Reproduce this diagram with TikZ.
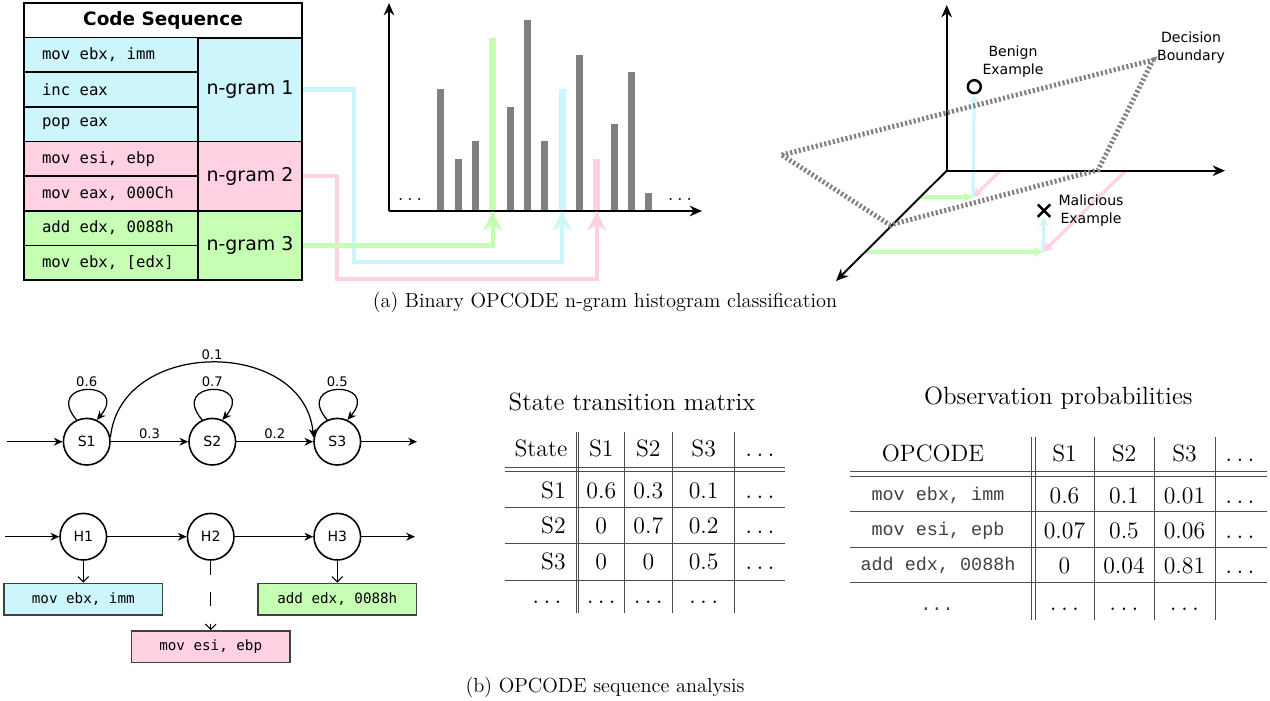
\documentclass[tikz,border=0pt]{standalone}
\usepackage{fontspec}
\usetikzlibrary{arrows.meta,shapes.misc}
\newfontfamily\dejavu{DejaVu Sans}
\newfontfamily\dejavumono{DejaVu Sans Mono}
\newfontfamily\courmono{Liberation Mono}
\newcommand\codeline[1]{\makebox[2.76cm][l]{#1}}
\definecolor{ngcyan}{HTML}{CCF5FC}
\definecolor{ngpink}{HTML}{FFD1E3}
\definecolor{nggreen}{HTML}{C6FFB4}
\definecolor{bargray}{HTML}{808080}

\begin{document}
\begin{tikzpicture}[x=0.02cm, y=-0.02cm,
  codecell/.style={draw, line width=1pt, inner sep=0pt, minimum width=3.48cm, minimum height=0.6925cm, font=\dejavumono\fontsize{8.9}{10}\selectfont},
  ngcell/.style={draw, line width=1pt, minimum width=2.08cm, inner sep=0pt, font=\dejavu\fontsize{10.8}{12}\selectfont},
  axisline/.style={line width=1.1pt, -{Stealth[length=7pt,width=6pt]}},
  flow/.style={line width=2.5pt, line join=miter, -{Stealth[length=11pt,width=10.5pt,inset=3pt]}},
  arrow3d/.style={line width=1.8pt, -{Stealth[length=5.5pt,width=5.5pt]}},
  boundary/.style={draw=bargray, line width=2.8pt, dash pattern=on 1.2pt off 1.3pt},
  lbl/.style={align=center, font=\dejavu\fontsize{8}{10.2}\selectfont},
  hstate/.style={circle, draw, line width=0.9pt, minimum size=0.932cm, inner sep=0pt, font=\dejavu\fontsize{8}{10}\selectfont},
  hmm/.style={line width=0.7pt, -{Stealth[length=5pt,width=4.5pt]}},
  emit/.style={line width=0.6pt, -{Straight Barb[length=3pt,width=6pt]}},
  plabel/.style={font=\dejavu\fontsize{7.5}{9}\selectfont, inner sep=1.5pt},
  obsbox/.style={draw=black!75, line width=0.9pt, minimum width=3.17cm, minimum height=0.634cm, font=\dejavumono\fontsize{8.1}{10}\selectfont},
  capstyle/.style={font=\fontsize{11.6}{14}\selectfont},
  tabtitle/.style={font=\fontsize{14.2}{17}\selectfont},
  tcell/.style={anchor=base, inner sep=0pt, font=\fontsize{13.5}{16}\selectfont},
  tcode/.style={anchor=base, inner sep=0pt, text=black!75, font=\courmono\fontsize{10.5}{12}\selectfont},
  hrule/.style={line width=0.5pt, draw=black!70}]
\useasboundingbox (0,0) rectangle (1270,700);

% Code sequence table
\node[draw, line width=1pt, fill=white, minimum width=5.56cm, minimum height=0.6925cm, font=\dejavu\bfseries\fontsize{10.5}{12}\selectfont] (title) at (163,20.3) {Code Sequence};
\node[codecell, fill=ngcyan] (op1) at (111,54.9) {\codeline{mov ebx, imm}};
\node[codecell, fill=ngcyan] (op2) at (111,89.6) {\codeline{inc eax}};
\node[codecell, fill=ngcyan] (op3) at (111,124.2) {\codeline{pop eax}};
\node[codecell, fill=ngpink] (op4) at (111,158.8) {\codeline{mov esi, ebp}};
\node[codecell, fill=ngpink] (op5) at (111,193.4) {\codeline{mov eax, 000Ch}};
\node[codecell, fill=nggreen] (op6) at (111,228.1) {\codeline{add edx, 0088h}};
\node[codecell, fill=nggreen] (op7) at (111,262.7) {\codeline{mov ebx, [edx]}};
\node[ngcell, fill=ngcyan, minimum height=2.0775cm] (ng1) at (250,89.6) {n-gram 1};
\node[ngcell, fill=ngpink, minimum height=1.385cm] (ng2) at (250,176.1) {n-gram 2};
\node[ngcell, fill=nggreen, minimum height=1.385cm] (ng3) at (250,245.4) {n-gram 3};

% Histogram
\coordinate (hO) at (389,211);
\foreach \x/\t in {440.7/89,458/159,475.4/141,510/107,527.4/20,544.7/141,579.3/55,614/124,631.3/72,648.7/193}
  \fill[bargray] (\x-3.5,211) rectangle (\x+3.5,\t);
\fill[nggreen] (489.2,211) rectangle (496.2,38);
\fill[ngcyan] (558.5,211) rectangle (565.5,89);
\fill[ngpink] (593.2,211) rectangle (600.2,159);
\draw[axisline] (hO) -- (389,3);
\draw[axisline] (hO) -- (702,211);
\node[anchor=base, font=\fontsize{12}{14}\selectfont] (hdotsl) at (410,200) {$\dots$};
\node[anchor=base, font=\fontsize{12}{14}\selectfont] (hdotsr) at (680,200) {$\dots$};
\coordinate (bin3) at (492.7,211);
\coordinate (bin7) at (562,211);
\coordinate (bin9) at (596.7,211);

% n-grams into bins
\draw[flow, ngcyan] (ng1.east) -| (354,262) -| (bin7);
\draw[flow, ngpink] (ng2.east) -| (337,279) -| (bin9);
\draw[flow, nggreen] (ng3.east) -| (bin3);

% Feature space
\coordinate (O) at (946.7,170.7);
\coordinate (zA) at (920,197);
\coordinate (zB) at (865,252);
\coordinate (xA) at (1000.7,170.7);
\coordinate (xB) at (1125.7,170.7);
\coordinate (pA) at (973,197);
\coordinate (pB) at (1043,252);
\node[circle, draw, line width=1.4pt, minimum size=0.26cm, inner sep=0pt] (benign) at (974.3,86.7) {};
\node[cross out, draw, line width=1.4pt, minimum size=0.2cm, inner sep=0pt] (malicious) at (1044,210.7) {};
\draw[arrow3d, nggreen] (zA) -- (pA);
\draw[arrow3d, ngpink] (xA) -- (pA);
\draw[arrow3d, ngcyan] (pA) -- (benign);
\draw[arrow3d, nggreen] (zB) -- (pB);
\draw[arrow3d, ngpink] (xB) -- (pB);
\draw[arrow3d, ngcyan] (pB) -- (malicious);
\draw[axisline] (O) -- (946.7,5);
\draw[axisline] (O) -- (1225,170.7);
\draw[axisline] (O) -- (836,281);
\draw[boundary] (781.7,155) -- (1153,60) -- (1098,170) -- (890,225) -- cycle;
\node[lbl] (benignlbl) at (1013,62) {Benign\\Example};
\node[lbl] (mallbl) at (1091,211) {Malicious\\Example};
\node[lbl] (boundlbl) at (1191,48) {Decision\\Boundary};

\node[capstyle] (capa) at (605,302) {(a) Binary OPCODE n-gram histogram classification};

% State chain
\node[hstate] (S1) at (86.7,441.7) {S1};
\node[hstate] (S2) at (212.3,441.7) {S2};
\node[hstate] (S3) at (337.3,441.7) {S3};
\coordinate (sin) at (7,441.7);
\coordinate (sout) at (417,441.7);
\draw[hmm] (sin) -- (S1);
\draw[hmm] (S1) -- node[above, plabel] {0.3} (S2);
\draw[hmm] (S2) -- node[above, plabel] {0.2} (S3);
\draw[hmm] (S3) -- (sout);
\draw[hmm] (S1.10) .. controls +(10,-100) and +(-10,-100) .. node[above, plabel] {0.1} (S3.170);
\draw[hmm] (S1.115) .. controls +(-34,-40) and +(34,-40) .. node[above, plabel] {0.6} (S1.65);
\draw[hmm] (S2.115) .. controls +(-34,-40) and +(34,-40) .. node[above, plabel] {0.7} (S2.65);
\draw[hmm] (S3.115) .. controls +(-34,-40) and +(34,-40) .. node[above, plabel] {0.5} (S3.65);

% Hidden chain
\node[hstate] (H1) at (83.3,536.7) {H1};
\node[hstate] (H2) at (210.7,536.7) {H2};
\node[hstate] (H3) at (337.3,536.7) {H3};
\coordinate (hin) at (5,536.7);
\coordinate (hout) at (415,536.7);
\draw[hmm] (hin) -- (H1);
\draw[hmm] (H1) -- (H2);
\draw[hmm] (H2) -- (H3);
\draw[hmm] (H3) -- (hout);
\node[obsbox, fill=ngcyan] (o1) at (83.3,599.2) {mov ebx, imm};
\node[obsbox, fill=ngpink] (o2) at (210.7,646.7) {mov esi, ebp};
\node[obsbox, fill=nggreen] (o3) at (337.3,599.2) {add edx, 0088h};
\draw[emit] (H1) -- (o1);
\draw[emit, dash pattern=on 8pt off 10pt] (H2) -- (o2);
\draw[emit] (H3) -- (o3);

% State transition matrix
\node[tabtitle] (t1title) at (632,401.7) {State transition matrix};
\foreach \x in {576,578.7,624,672.7,734.7} \draw[hrule] (\x,431.7) -- (\x,613);
\foreach \y in {467.3,471.7,507.3,543.3,580} \draw[hrule] (505,\y) -- (785,\y);
\node[tcell] (sh0) at (541,456) {State};
\foreach \t/\x [count=\c] in {S1/601.3,S2/648.3,S3/703.7,$\dots$/760} \node[tcell] (sh\c) at (\x,456) {\t};
\node[tcell, anchor=base east] (sr1) at (566,498.3) {S1};
\foreach \t/\x [count=\c] in {0.6/601.3,0.3/648.3,0.1/703.7,$\dots$/760} \node[tcell] (sa\c) at (\x,498.3) {\t};
\node[tcell, anchor=base east] (sr2) at (566,533.3) {S2};
\foreach \t/\x [count=\c] in {0/601.3,0.7/648.3,0.2/703.7,$\dots$/760} \node[tcell] (sb\c) at (\x,533.3) {\t};
\node[tcell, anchor=base east] (sr3) at (566,569.3) {S3};
\foreach \t/\x [count=\c] in {0/601.3,0/648.3,0.5/703.7,$\dots$/760} \node[tcell] (sc\c) at (\x,569.3) {\t};
\foreach \x [count=\c] in {547,601.3,648.3,703.7} \node[tcell] (sd\c) at (\x,603) {$\dots$};

% Observation probabilities
\node[tabtitle] (t2title) at (1058.3,398.3) {Observation probabilities};
\foreach \x in {1031.7,1035,1094,1154,1215} \draw[hrule] (\x,436.7) -- (\x,620);
\foreach \y in {471,476,511.7,547.3,582.7} \draw[hrule] (850,\y) -- (1266.7,\y);
\node[tcell] (oh0) at (933,461) {OPCODE};
\foreach \t/\x [count=\c] in {S1/1064.5,S2/1124,S3/1184.5,$\dots$/1240} \node[tcell] (oh\c) at (\x,461) {\t};
\node[tcode] (or1) at (938,500) {mov ebx, imm};
\foreach \t/\x [count=\c] in {0.6/1064.5,0.1/1124,0.01/1184.5,$\dots$/1240} \node[tcell] (oa\c) at (\x,503.3) {\t};
\node[tcode] (or2) at (938,535) {mov esi, epb};
\foreach \t/\x [count=\c] in {0.07/1064.5,0.5/1124,0.06/1184.5,$\dots$/1240} \node[tcell] (ob\c) at (\x,538.3) {\t};
\node[tcode] (or3) at (938,570.5) {add edx, 0088h};
\foreach \t/\x [count=\c] in {0/1064.5,0.04/1124,0.81/1184.5,$\dots$/1240} \node[tcell] (oc\c) at (\x,573.3) {\t};
\node[tcode] (or4) at (937,610) {...};
\foreach \x [count=\c] in {1064.5,1124,1184.5} \node[tcell] (od\c) at (\x,610) {$\dots$};

\node[capstyle] (capb) at (605,687) {(b) OPCODE sequence analysis};
\end{tikzpicture}
\end{document}
